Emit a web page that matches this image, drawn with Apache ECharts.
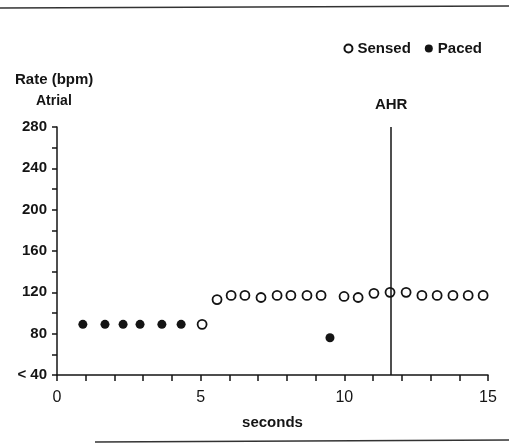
<!DOCTYPE html>
<html>
<head>
<meta charset="utf-8">
<script src="https://cdn.jsdelivr.net/npm/echarts@6/dist/echarts.min.js"></script>
<style>html,body{margin:0;padding:0;background:#fff}#c{width:509px;height:443px}</style>
</head>
<body>
<div id="c"></div>
<script>
// Data
const pacedX = [0.9, 1.67, 2.3, 2.89, 3.65, 4.32, 9.5];
const pacedY = [89, 89, 89, 89, 89, 89, 76];
const sensedX = [5.05, 5.57, 6.06, 6.54, 7.10, 7.66, 8.14, 8.70, 9.19, 9.99, 10.48, 11.03, 11.59, 12.15, 12.70, 13.23, 13.78, 14.31, 14.83];
const sensedY = [89, 113, 117, 117, 115, 117, 117, 117, 117, 116, 115, 119, 120, 120, 117, 117, 117, 117, 117];
const ahrX = 11.63;
const yLabels = {40: '< 40', 80: '80', 120: '120', 160: '160', 200: '200', 240: '240', 280: '280'};
const xLabels = {0: '0', 5: '5', 10: '10', 15: '15'};

const ink = '#141414';
const font = 'Liberation Sans, Arial, sans-serif';
const chart = echarts.init(document.getElementById('c'), null, {renderer: 'canvas'});
chart.setOption({
  animation: false,
  backgroundColor: '#fff',
  grid: {left: 57, right: 21, top: 127, bottom: 68},
  legend: {
    right: 22, top: 36, itemWidth: 8, itemHeight: 8, itemGap: 14,
    textStyle: {color: ink, fontSize: 15, fontFamily: font, fontWeight: 'bold'},
    data: [{name: 'Sensed', icon: 'circle'}, {name: 'Paced', icon: 'circle'}]
  },
  xAxis: {
    type: 'value', min: 0, max: 15, interval: 1,
    name: 'seconds', nameLocation: 'middle', nameGap: 40,
    nameTextStyle: {color: ink, fontSize: 15, fontFamily: font, fontWeight: 'bold'},
    axisLine: {lineStyle: {color: ink, width: 1.5}},
    axisTick: {show: true, length: 6, lineStyle: {color: ink, width: 1.5}},
    splitLine: {show: false},
    axisLabel: {color: ink, fontSize: 16, fontFamily: font, margin: 15,
      formatter: v => (xLabels[v] !== undefined ? xLabels[v] : '')}
  },
  yAxis: {
    type: 'value', min: 40, max: 280, interval: 20,
    axisLine: {show: true, lineStyle: {color: ink, width: 1.5}},
    axisTick: {show: true, length: 5, lineStyle: {color: ink, width: 1.5}},
    splitLine: {show: false},
    axisLabel: {color: ink, fontSize: 15, fontFamily: font, margin: 10, fontWeight: 'bold',
      formatter: v => (yLabels[v] !== undefined ? yLabels[v] : '')}
  },
  graphic: [
    {type: 'text', left: 15, top: 72, style: {text: 'Rate (bpm)', fill: ink, font: 'bold 15px ' + font}},
    {type: 'text', left: 36, top: 94, style: {text: 'Atrial', fill: ink, font: 'bold 14px ' + font}},
    {type: 'line', shape: {x1: 0, y1: 8, x2: 509, y2: 6}, style: {stroke: '#333', lineWidth: 1.5}},
    {type: 'line', shape: {x1: 95, y1: 442, x2: 509, y2: 440}, style: {stroke: '#333', lineWidth: 1.5}}
  ],
  series: [
    {
      name: 'Sensed', type: 'scatter', symbol: 'circle', symbolSize: 9,
      itemStyle: {color: '#fff', borderColor: ink, borderWidth: 1.8, opacity: 1},
      data: sensedX.map((x, i) => [x, sensedY[i]]),
      markLine: {
        silent: true, symbol: 'none',
        lineStyle: {color: ink, width: 1.5, type: 'solid'},
        label: {show: true, position: 'end', formatter: 'AHR', color: ink, fontSize: 15, fontWeight: 'bold', fontFamily: font, distance: 15},
        data: [{xAxis: ahrX}]
      }
    },
    {
      name: 'Paced', type: 'scatter', symbol: 'circle', symbolSize: 9,
      itemStyle: {color: ink, opacity: 1},
      data: pacedX.map((x, i) => [x, pacedY[i]])
    }
  ]
});
</script>
</body>
</html>
